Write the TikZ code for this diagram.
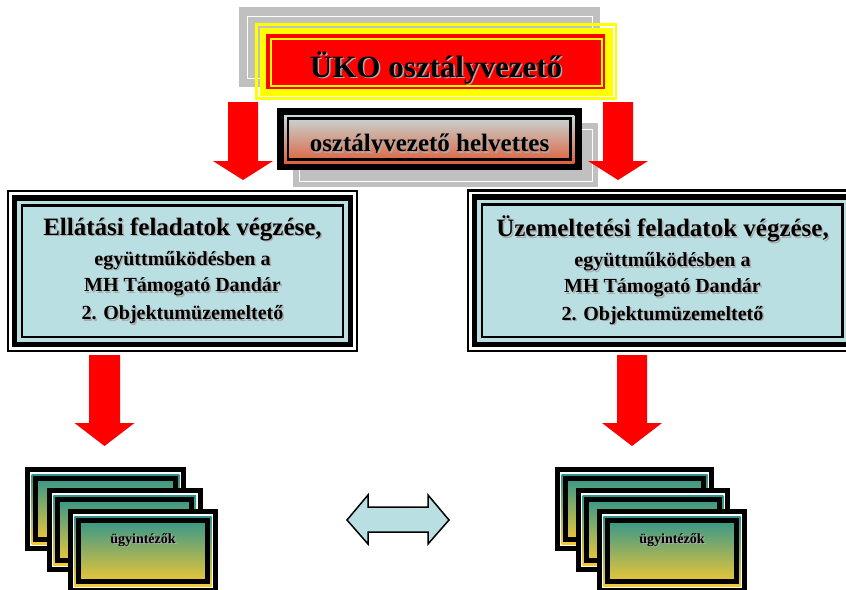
\documentclass[tikz,border=0pt]{standalone}
\usepackage{fontspec}
\setmainfont{Liberation Serif}
\usetikzlibrary{calc}
\definecolor{shgray}{HTML}{AAAAAA}
\definecolor{boxblue}{HTML}{BADFE3}
\definecolor{lgray}{HTML}{C0C0C0}
\definecolor{hvtop}{HTML}{C4DCDC}
\definecolor{hvbot}{HTML}{E0603C}
\definecolor{cdtop}{HTML}{2A9490}
\definecolor{cdbot}{HTML}{F7C931}
\definecolor{ared}{HTML}{FF0000}
\definecolor{ayel}{HTML}{FFFF00}

\tikzset{
  txt/.style={anchor=base, inner sep=0pt},
  redarrow/.style={fill=ared},
  dblarrow/.style={fill=boxblue, draw=black, line width=1.5pt, line join=miter},
}

% name, x, y, size, text
\newcommand\shtext[5]{%
  \node[txt, text=shgray, font=\fontsize{#4}{#4}\selectfont\bfseries] (#1s) at ({#2+1.5},{#3+1.5}) {#5};
  \node[txt, font=\fontsize{#4}{#4}\selectfont\bfseries] (#1) at ({#2},{#3}) {#5};}

% x0,y0,x1,y1
\newcommand\bigbox[4]{%
  \fill[black] (#1,#2) rectangle (#3,#4);
  \fill[white] (#1+2.3,#2+2.3) rectangle (#3-2.3,#4-2.3);
  \fill[black] (#1+5,#2+5) rectangle (#3-5,#4-5);
  \fill[boxblue] (#1+10.7,#2+10.7) rectangle (#3-10.7,#4-10.7);
  \fill[black] (#1+14,#2+14) rectangle (#3-14,#4-14);
  \fill[boxblue] (#1+16.7,#2+16.7) rectangle (#3-16.7,#4-16.7);}

% x0,y0,x1,y1,name
\newcommand\card[5]{%
  \fill[black] (#1,#2) rectangle (#3,#4);
  \fill[white] (#1+5,#2+5) rectangle (#3-5,#4-5);
  \shade[top color=cdtop, bottom color=cdbot] (#1+6.7,#2+6.7) rectangle (#3-6.7,#4-6.7);
  \draw[black, line width=5pt] (#1+10.8,#2+10.8) rectangle (#3-10.8,#4-10.8);
  \pgfmathsetmacro\cardcx{(#1+#3)/2}%
  \pgfmathsetmacro\cardty{#2+34}%
  \shtext{#5}{\cardcx}{\cardty}{14}{ügyintézők}}

% cx, ytop, yhead, ytip, half shaft, half head
\newcommand\downarr[6]{%
  \fill[redarrow] (#1-#5,#2) -- (#1+#5,#2) -- (#1+#5,#3) -- (#1+#6,#3) -- (#1,#4)
    -- (#1-#6,#3) -- (#1-#5,#3) -- cycle;}

\begin{document}
\begin{tikzpicture}[x=1pt,y=-1pt]
\useasboundingbox (0,0) rectangle (846,589);
\clip (0,0) rectangle (846,589);
\fill[white] (0,0) rectangle (846,589);

% top box
\fill[lgray] (239.3,7.3) rectangle (600,87);
\draw[white, line width=0.8pt] (247,16) rectangle (592,78);
\draw[ayel, line width=2.5pt] (256.6,24.6) rectangle (616,98.7);
\fill[ayel] (260,28) rectangle (613,96);
\fill[ared] (266,34) rectangle (605,89.3);
\draw[ayel, line width=2pt] (270.5,38.5) rectangle (601.7,85.8);
\shtext{chief}{436}{77.3}{31}{ÜKO osztályvezető}

% deputy box
\fill[lgray] (293.3,123.3) rectangle (598.3,186.7);
\draw[white, line width=0.8pt] (299,129) rectangle (592,181.7);
\fill[black] (277.3,108.3) rectangle (582.3,170);
\shade[top color=hvtop, bottom color=hvbot] (284,115) rectangle (574.3,163);
\draw[black, line width=2.6pt] (288,118.6) rectangle (570.3,159.4);
\begin{scope}
  \clip (284,115) rectangle (574,152.5);
  \shtext{deputy}{429.5}{151.7}{25}{osztályvezető helvettes}
\end{scope}

% upper arrows
\downarr{243}{102}{161}{180}{15}{30}
\downarr{618}{102}{161}{180}{15}{30}

% big boxes
\bigbox{6.7}{190}{358.3}{352.4}
\shtext{l1}{182.5}{235}{25}{Ellátási feladatok végzése,}
\shtext{l2}{182.5}{265}{20}{együttműködésben a}
\shtext{l3}{182.5}{291.7}{20}{MH Támogató Dandár}
\shtext{l4}{182.5}{319.5}{20}{2. Objektumüzemeltető}

\bigbox{466.7}{189.3}{858}{352.4}
\shtext{r1}{662.5}{236.5}{25}{Üzemeltetési feladatok végzése,}
\shtext{r2}{662.5}{266.5}{20}{együttműködésben a}
\shtext{r3}{662.5}{292.5}{20}{MH Támogató Dandár}
\shtext{r4}{662.5}{320}{20}{2. Objektumüzemeltető}

% lower arrows
\downarr{104.5}{355}{423}{446}{15.5}{30}
\downarr{632}{355}{423}{446}{15}{30}

% card stacks
\card{25}{467.3}{186}{550.7}{la}
\card{46.7}{488.3}{202.7}{571.7}{lb}
\card{67.7}{509.3}{218.3}{592.7}{lc}

\card{555}{467.3}{714.3}{550.7}{ra}
\card{576}{488.3}{730}{571.7}{rb}
\card{596.7}{509.3}{747.3}{592.7}{rc}

% double arrow
\filldraw[dblarrow] (347,520) -- (368,495) -- (368,507) -- (428,507) -- (428,495)
  -- (449,520) -- (428,544) -- (428,532) -- (368,532) -- (368,544) -- cycle;
\end{tikzpicture}
\end{document}
